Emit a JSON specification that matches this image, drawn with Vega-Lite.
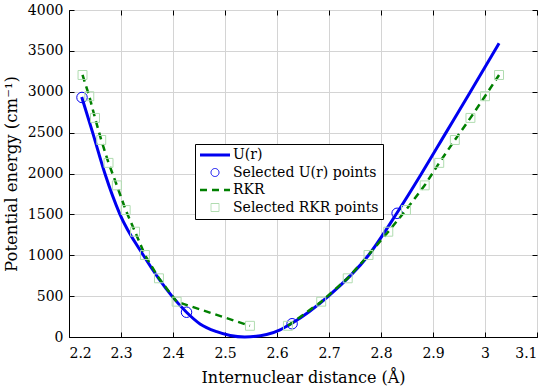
{
  "$schema": "https://vega.github.io/schema/vega-lite/v6.json",
  "width": 468,
  "height": 327,
  "autosize": "none",
  "padding": {"left": 69, "top": 10, "right": 13, "bottom": 49},
  "background": "white",
  "config": {
    "view": {"stroke": "black", "strokeWidth": 1},
    "font": "DejaVu Serif",
    "axis": {
      "labelFont": "DejaVu Serif",
      "labelFontSize": 14,
      "labelColor": "black",
      "titleFont": "DejaVu Serif",
      "titleFontSize": 16,
      "titleFontWeight": "normal",
      "titleColor": "black",
      "domainColor": "black",
      "tickColor": "black",
      "gridColor": "#d4d4d4",
      "gridWidth": 1,
      "gridOpacity": 1
    }
  },
  "resolve": {"axis": {"x": "independent", "y": "independent"}},
  "layer": [
    {
      "data": {"values": [
        {"r": 2.2245, "E": 2935, "series": "U(r)"},
        {"r": 2.2455, "E": 2500, "series": "U(r)"},
        {"r": 2.269, "E": 2000, "series": "U(r)"},
        {"r": 2.298, "E": 1500, "series": "U(r)"},
        {"r": 2.343, "E": 1000, "series": "U(r)"},
        {"r": 2.398, "E": 500, "series": "U(r)"},
        {"r": 2.426, "E": 303, "series": "U(r)"},
        {"r": 2.452, "E": 160, "series": "U(r)"},
        {"r": 2.484, "E": 65, "series": "U(r)"},
        {"r": 2.51, "E": 18, "series": "U(r)"},
        {"r": 2.538, "E": 0, "series": "U(r)"},
        {"r": 2.58, "E": 30, "series": "U(r)"},
        {"r": 2.606, "E": 88, "series": "U(r)"},
        {"r": 2.628, "E": 165, "series": "U(r)"},
        {"r": 2.699, "E": 500, "series": "U(r)"},
        {"r": 2.776, "E": 1000, "series": "U(r)"},
        {"r": 2.830, "E": 1510, "series": "U(r)"},
        {"r": 2.878, "E": 2000, "series": "U(r)"},
        {"r": 2.925, "E": 2500, "series": "U(r)"},
        {"r": 2.972, "E": 3000, "series": "U(r)"},
        {"r": 3.027, "E": 3593, "series": "U(r)"}
      ]},
      "mark": {"type": "line", "interpolate": "monotone", "strokeWidth": 3},
      "encoding": {
        "x": {"field": "r", "type": "quantitative",
          "scale": {"domain": [2.2, 3.1], "nice": false, "zero": false},
          "axis": {"orient": "bottom", "title": "Internuclear distance (Å)",
            "values": [2.2, 2.3, 2.4, 2.5, 2.6, 2.7, 2.8, 2.9, 3.0, 3.1],
            "format": ".1~f", "ticks": false, "labelPadding": 9, "titlePadding": 9, "grid": true}},
        "y": {"field": "E", "type": "quantitative",
          "scale": {"domain": [0, 4000], "nice": false},
          "axis": {"orient": "left", "title": "Potential energy (cm⁻¹)",
            "values": [0, 500, 1000, 1500, 2000, 2500, 3000, 3500, 4000],
            "format": "d", "ticks": false, "labelPadding": 6, "titlePadding": 8, "titleFontSize": 16.5, "grid": true}},
        "color": {"field": "series", "type": "nominal",
          "scale": {"domain": ["U(r)", "Selected U(r) points", "RKR", "Selected RKR points"],
                    "range": ["#0000f0", "#0000f0", "#008000", "#b0dcb0"]},
          "legend": {
            "title": null,
            "orient": "none",
            "legendX": 126,
            "legendY": 134,
            "padding": 4,
            "strokeColor": "black",
            "fillColor": "white",
            "labelFont": "DejaVu Serif",
            "labelFontSize": 14,
            "labelColor": "black",
            "symbolSize": 256,
            "symbolOffset": 9,
            "labelOffset": 11,
            "rowPadding": 3.5,
            "encode": {
              "symbols": {
                "update": {
                  "shape": {"signal": "datum.value === 'Selected U(r) points' ? 'circle' : datum.value === 'Selected RKR points' ? 'square' : 'stroke'"},
                  "size": {"signal": "(datum.value === 'U(r)' || datum.value === 'RKR') ? 900 : 64"},
                  "strokeDash": {"signal": "datum.value === 'RKR' ? [7, 5] : [1, 0]"},
                  "strokeWidth": {"signal": "datum.value === 'U(r)' ? 3 : datum.value === 'RKR' ? 2.5 : 1"},
                  "fill": {"value": "transparent"},
                  "stroke": {"signal": "(datum.value === 'U(r)' || datum.value === 'Selected U(r) points') ? '#0000f0' : datum.value === 'RKR' ? '#008000' : '#b0dcb0'"},
                  "opacity": {"value": 1}
                }
              }
            }
          }}
      }
    },
    {
      "data": {"values": [
        {"r": 2.225, "E": 2930, "series": "Selected U(r) points"},
        {"r": 2.426, "E": 303, "series": "Selected U(r) points"},
        {"r": 2.629, "E": 162, "series": "Selected U(r) points"},
        {"r": 2.831, "E": 1513, "series": "Selected U(r) points"}
      ]},
      "mark": {"type": "point", "shape": "circle", "filled": false, "size": 110, "strokeWidth": 1, "opacity": 1},
      "encoding": {
        "x": {"field": "r", "type": "quantitative",
          "axis": {"orient": "bottom", "labels": false, "title": null, "grid": false, "domain": false, "tickSize": -5,
                   "values": [2.2, 2.3, 2.4, 2.5, 2.6, 2.7, 2.8, 2.9, 3.0, 3.1]}},
        "y": {"field": "E", "type": "quantitative",
          "axis": {"orient": "left", "labels": false, "title": null, "grid": false, "domain": false, "tickSize": -5,
                   "values": [0, 500, 1000, 1500, 2000, 2500, 3000, 3500, 4000]}},
        "color": {"field": "series", "type": "nominal"}
      }
    },
    {
      "data": {"values": [
        {"r": 2.226, "E": 3205, "branch": "inner", "series": "RKR"},
        {"r": 2.239, "E": 2945, "branch": "inner", "series": "RKR"},
        {"r": 2.250, "E": 2680, "branch": "inner", "series": "RKR"},
        {"r": 2.262, "E": 2410, "branch": "inner", "series": "RKR"},
        {"r": 2.276, "E": 2130, "branch": "inner", "series": "RKR"},
        {"r": 2.292, "E": 1855, "branch": "inner", "series": "RKR"},
        {"r": 2.309, "E": 1553, "branch": "inner", "series": "RKR"},
        {"r": 2.327, "E": 1288, "branch": "inner", "series": "RKR"},
        {"r": 2.346, "E": 1003, "branch": "inner", "series": "RKR"},
        {"r": 2.373, "E": 718, "branch": "inner", "series": "RKR"},
        {"r": 2.407, "E": 432, "branch": "inner", "series": "RKR"},
        {"r": 2.548, "E": 137, "branch": "inner", "series": "RKR"},
        {"r": 2.621, "E": 137, "branch": "outer", "series": "RKR"},
        {"r": 2.685, "E": 432, "branch": "outer", "series": "RKR"},
        {"r": 2.736, "E": 718, "branch": "outer", "series": "RKR"},
        {"r": 2.776, "E": 1003, "branch": "outer", "series": "RKR"},
        {"r": 2.814, "E": 1288, "branch": "outer", "series": "RKR"},
        {"r": 2.848, "E": 1553, "branch": "outer", "series": "RKR"},
        {"r": 2.884, "E": 1855, "branch": "outer", "series": "RKR"},
        {"r": 2.912, "E": 2130, "branch": "outer", "series": "RKR"},
        {"r": 2.942, "E": 2410, "branch": "outer", "series": "RKR"},
        {"r": 2.972, "E": 2680, "branch": "outer", "series": "RKR"},
        {"r": 3.000, "E": 2945, "branch": "outer", "series": "RKR"},
        {"r": 3.027, "E": 3205, "branch": "outer", "series": "RKR"}
      ]},
      "mark": {"type": "line", "strokeWidth": 2.5, "strokeDash": [7, 5]},
      "encoding": {
        "x": {"field": "r", "type": "quantitative",
          "axis": {"orient": "top", "labels": false, "title": null, "grid": false, "domain": false, "tickSize": -5,
                   "values": [2.2, 2.3, 2.4, 2.5, 2.6, 2.7, 2.8, 2.9, 3.0, 3.1]}},
        "y": {"field": "E", "type": "quantitative",
          "axis": {"orient": "right", "labels": false, "title": null, "grid": false, "domain": false, "tickSize": -5,
                   "values": [0, 500, 1000, 1500, 2000, 2500, 3000, 3500, 4000]}},
        "detail": {"field": "branch"},
        "color": {"field": "series", "type": "nominal"}
      }
    },
    {
      "data": {"values": [
        {"r": 2.226, "E": 3205, "series": "Selected RKR points"},
        {"r": 2.239, "E": 2945, "series": "Selected RKR points"},
        {"r": 2.250, "E": 2680, "series": "Selected RKR points"},
        {"r": 2.262, "E": 2410, "series": "Selected RKR points"},
        {"r": 2.276, "E": 2130, "series": "Selected RKR points"},
        {"r": 2.292, "E": 1855, "series": "Selected RKR points"},
        {"r": 2.309, "E": 1553, "series": "Selected RKR points"},
        {"r": 2.327, "E": 1288, "series": "Selected RKR points"},
        {"r": 2.346, "E": 1003, "series": "Selected RKR points"},
        {"r": 2.373, "E": 718, "series": "Selected RKR points"},
        {"r": 2.407, "E": 432, "series": "Selected RKR points"},
        {"r": 2.548, "E": 137, "series": "Selected RKR points"},
        {"r": 2.621, "E": 137, "series": "Selected RKR points"},
        {"r": 2.685, "E": 432, "series": "Selected RKR points"},
        {"r": 2.736, "E": 718, "series": "Selected RKR points"},
        {"r": 2.776, "E": 1003, "series": "Selected RKR points"},
        {"r": 2.814, "E": 1288, "series": "Selected RKR points"},
        {"r": 2.848, "E": 1553, "series": "Selected RKR points"},
        {"r": 2.884, "E": 1855, "series": "Selected RKR points"},
        {"r": 2.912, "E": 2130, "series": "Selected RKR points"},
        {"r": 2.942, "E": 2410, "series": "Selected RKR points"},
        {"r": 2.972, "E": 2680, "series": "Selected RKR points"},
        {"r": 3.000, "E": 2945, "series": "Selected RKR points"},
        {"r": 3.027, "E": 3205, "series": "Selected RKR points"}
      ]},
      "mark": {"type": "point", "shape": "square", "filled": false, "size": 80, "strokeWidth": 1, "opacity": 1},
      "encoding": {
        "x": {"field": "r", "type": "quantitative", "axis": null},
        "y": {"field": "E", "type": "quantitative", "axis": null},
        "color": {"field": "series", "type": "nominal"}
      }
    }
  ]
}
